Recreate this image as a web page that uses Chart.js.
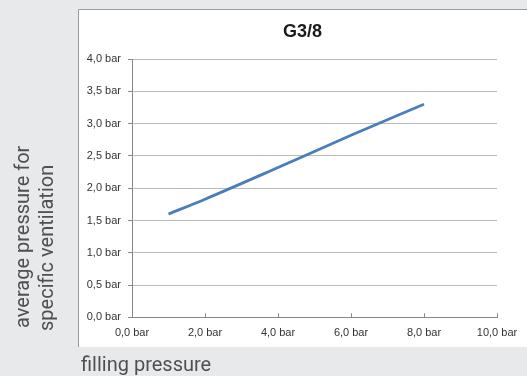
<!DOCTYPE html>
<html><head><meta charset="utf-8">
<script src="https://cdn.jsdelivr.net/npm/chart.js@4/dist/chart.umd.min.js"></script>
<style>html,body{margin:0;padding:0;background:#e8e9eb;}#wrap{width:527px;height:376px;position:relative}</style>
</head><body><div id="wrap"><canvas id="c"></canvas></div>
<script>
const chartTitle = 'G3/8';
const fillingPressure = [1, 2, 4, 6, 8];
const averagePressure = [1.6, 1.83, 2.32, 2.82, 3.3];
const xTickLabels = ['0,0 bar', '2,0 bar', '4,0 bar', '6,0 bar', '8,0 bar', '10,0 bar'];
const yTickLabels = ['0,0 bar', '0,5 bar', '1,0 bar', '1,5 bar', '2,0 bar', '2,5 bar', '3,0 bar', '3,5 bar', '4,0 bar'];
const xAxisTitle = 'filling pressure';
const yAxisTitle = ['average pressure for', 'specific ventilation'];

const tickFont = {family: "'Liberation Sans', Arial, sans-serif", size: 11};
const titleFamily = "Roboto, 'Liberation Sans', sans-serif";

const chrome = {
  id: 'chrome',
  beforeDraw(chart) {
    const ctx = chart.ctx;
    ctx.save();
    ctx.fillStyle = '#e8e9eb';
    ctx.fillRect(0, 0, chart.width, chart.height);
    ctx.fillStyle = '#ffffff';
    ctx.fillRect(78, 9, chart.width - 78, 338);
    ctx.strokeStyle = '#9a9a9a';
    ctx.lineWidth = 1;
    ctx.beginPath();
    ctx.moveTo(78.5, 347);
    ctx.lineTo(78.5, 9.5);
    ctx.lineTo(chart.width, 9.5);
    ctx.stroke();
    ctx.restore();
  },
  afterDraw(chart) {
    const ctx = chart.ctx;
    ctx.save();
    ctx.fillStyle = '#505050';
    ctx.font = '20px ' + titleFamily;
    ctx.textBaseline = 'alphabetic';
    ctx.textAlign = 'left';
    ctx.fillText(xAxisTitle, 81, 371);
    const bases = [[28.5, 328], [53, 331]];
    yAxisTitle.forEach((t, i) => {
      ctx.save();
      ctx.translate(bases[i][0], bases[i][1]);
      ctx.rotate(-Math.PI / 2);
      ctx.fillText(t, 0, 0);
      ctx.restore();
    });
    ctx.restore();
  }
};

new Chart(document.getElementById('c'), {
  type: 'line',
  data: {
    datasets: [{
      data: fillingPressure.map((x, i) => ({x: x, y: averagePressure[i]})),
      borderColor: '#4a7ebb',
      borderWidth: 2.75,
      pointRadius: 0,
      cubicInterpolationMode: 'monotone',
      fill: false
    }]
  },
  plugins: [chrome],
  options: {
    responsive: true,
    maintainAspectRatio: false,
    animation: false,
    devicePixelRatio: 1,
    layout: {padding: {left: 78, right: 0, top: 9, bottom: 0}},
    plugins: {
      legend: {display: false},
      tooltip: {enabled: false},
      title: {
        display: true,
        text: chartTitle,
        color: '#1a1a1a',
        font: {family: "'Liberation Sans', Arial, sans-serif", size: 18, weight: 'bold'},
        padding: {top: 12, bottom: 16.5}
      }
    },
    scales: {
      x: {
        type: 'linear', min: 0, max: 10,
        ticks: {stepSize: 2, callback: (v, i) => xTickLabels[i], font: tickFont, color: '#333333', padding: 13, maxRotation: 0, autoSkip: false},
        grid: {drawOnChartArea: false, tickLength: -4, color: '#888888'},
        border: {color: '#888888', width: 1},
        afterFit: s => { s.height = 58.7; s.paddingRight = 0; s.paddingLeft = 0; }
      },
      y: {
        type: 'linear', min: 0, max: 4,
        ticks: {stepSize: 0.5, callback: (v, i) => yTickLabels[i], font: tickFont, color: '#333333', padding: 7, autoSkip: false},
        grid: {color: '#bcbcbc', tickColor: '#888888', tickLength: 4},
        border: {color: '#888888', width: 1},
        afterFit: s => { s.width = 54; s.paddingTop = 0; s.paddingBottom = 0; }
      },
      y2: {
        type: 'linear', position: 'right', display: true,
        ticks: {display: false},
        grid: {display: false},
        border: {display: false},
        afterFit: s => { s.width = 30; s.paddingTop = 0; s.paddingBottom = 0; }
      }
    }
  }
});
</script>
</body></html>
